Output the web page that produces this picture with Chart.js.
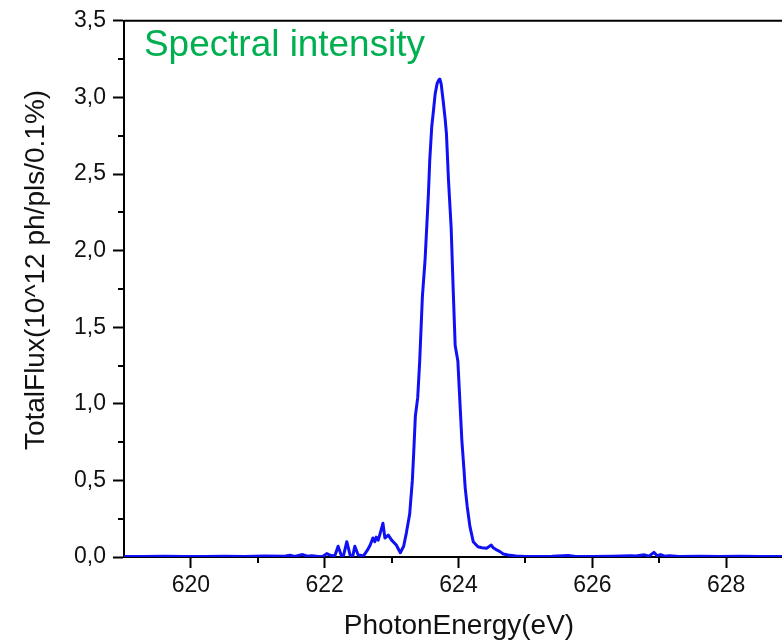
<!DOCTYPE html>
<html>
<head>
<meta charset="utf-8">
<script src="https://cdn.jsdelivr.net/npm/chart.js@4.4.1/dist/chart.umd.min.js"></script>
<style>
  html, body { margin: 0; padding: 0; background: #fff; }
  #wrap { width: 782px; height: 643px; position: relative; }
</style>
</head>
<body>
<div id="wrap"><canvas id="spectrum" width="782" height="643"></canvas></div>
<script>
// ── data ──
const energy = [
  619.0, 619.3, 619.6, 619.9, 620.2, 620.5, 620.8, 621.1, 621.4, 621.48, 621.55, 621.67, 621.74, 621.81, 621.9, 621.97,
  622.03, 622.08, 622.15, 622.2, 622.25, 622.28, 622.33, 622.38, 622.42, 622.45, 622.5, 622.55, 622.58, 622.64,
  622.68, 622.72, 622.75, 622.77, 622.8, 622.83, 622.87, 622.9, 622.95, 623.0, 623.07, 623.13, 623.18, 623.22,
  623.27, 623.31, 623.33, 623.355, 623.39, 623.42, 623.46, 623.5, 623.55, 623.57, 623.6, 623.62, 623.65, 623.68,
  623.7, 623.72, 623.74, 623.77, 623.8, 623.82, 623.85, 623.89, 623.92, 623.95, 623.99, 624.02, 624.05, 624.08,
  624.1, 624.13, 624.17, 624.22, 624.29, 624.35, 624.42, 624.49, 624.52, 624.57, 624.62, 624.67, 624.74, 624.86,
  625.0, 625.2, 625.4, 625.64, 625.75, 626.0, 626.3, 626.57, 626.65, 626.78, 626.85, 626.92, 626.97, 627.02,
  627.08, 627.15, 627.3, 627.6, 627.9, 628.2, 628.5, 628.85
];
const flux = [
  0.004, 0.003, 0.005, 0.003, 0.004, 0.005, 0.004, 0.006, 0.005, 0.012, 0.004, 0.016, 0.005, 0.009, 0.004, 0.003,
  0.022, 0.012, 0.007, 0.07, 0.008, 0.007, 0.10, 0.01, 0.007, 0.07, 0.013, 0.01, 0.007, 0.046,
  0.078, 0.124, 0.10, 0.13, 0.11, 0.156, 0.22, 0.124, 0.143, 0.11, 0.078, 0.028, 0.07, 0.156,
  0.28, 0.50, 0.68, 0.92, 1.04, 1.28, 1.70, 1.94, 2.37, 2.59, 2.81, 2.89, 3.02, 3.09,
  3.11, 3.12, 3.09, 2.98, 2.86, 2.76, 2.46, 2.15, 1.75, 1.38, 1.28, 1.02, 0.76, 0.58,
  0.45, 0.33, 0.20, 0.10, 0.067, 0.06, 0.057, 0.078, 0.06, 0.046, 0.035, 0.02, 0.013, 0.007,
  0.004, 0.004, 0.005, 0.010, 0.004, 0.004, 0.005, 0.008, 0.006, 0.014, 0.006, 0.030, 0.008, 0.016,
  0.005, 0.008, 0.004, 0.005, 0.004, 0.005, 0.004, 0.004
];
const xMajor = [620, 622, 624, 626, 628];
const xMinor = [621, 623, 625, 627];
const yMajor = [0, 0.5, 1.0, 1.5, 2.0, 2.5, 3.0, 3.5];
const yMinor = [0.25, 0.75, 1.25, 1.75, 2.25, 2.75, 3.25];

const FONT = '"Liberation Sans", Arial, sans-serif';

// minor ticks, top frame line and the three texts
const decor = {
  id: 'decor',
  afterDraw(chart) {
    const { ctx, chartArea: a, scales: { x, y } } = chart;
    ctx.save();
    ctx.strokeStyle = '#000';
    ctx.lineWidth = 2;
    ctx.beginPath();
    xMinor.forEach(v => {
      const px = Math.round(x.getPixelForValue(v));
      ctx.moveTo(px, a.bottom); ctx.lineTo(px, a.bottom + 6);
    });
    yMinor.forEach(v => {
      const py = Math.round(y.getPixelForValue(v));
      ctx.moveTo(a.left, py); ctx.lineTo(a.left - 6, py);
    });
    ctx.moveTo(a.left, a.top); ctx.lineTo(a.right, a.top);
    ctx.stroke();

    // title
    ctx.fillStyle = '#00b050';
    ctx.font = `36px ${FONT}`;
    ctx.textBaseline = 'alphabetic';
    ctx.textAlign = 'left';
    ctx.save();
    const t = 'Spectral intensity';
    const sx = 281 / ctx.measureText(t).width;
    ctx.translate(144, 56);
    ctx.scale(sx, 1);
    ctx.fillText(t, 0, 0);
    ctx.restore();

    // axis titles
    ctx.fillStyle = '#111';
    ctx.font = `28px ${FONT}`;
    ctx.textAlign = 'center';
    ctx.textBaseline = 'middle';
    ctx.fillText('PhotonEnergy(eV)', 459, 626);
    ctx.save();
    ctx.translate(36, 270);
    ctx.rotate(-Math.PI / 2);
    ctx.fillText('TotalFlux(10^12 ph/pls/0.1%)', 0, 0);
    ctx.restore();
    ctx.restore();
  }
};

new Chart(document.getElementById('spectrum'), {
  type: 'line',
  data: {
    datasets: [{
      data: energy.map((e, i) => ({ x: e, y: flux[i] })),
      borderColor: '#1010f4',
      borderWidth: 3,
      pointRadius: 0,
      tension: 0,
      borderJoinStyle: 'round',
      fill: false
    }]
  },
  options: {
    responsive: false,
    animation: false,
    devicePixelRatio: 1,
    layout: { padding: { top: 20, right: 0, left: 0, bottom: 0 } },
    plugins: { legend: { display: false }, tooltip: { enabled: false } },
    scales: {
      x: {
        type: 'linear',
        min: 619.0,
        max: 628.835,
        afterBuildTicks: s => { s.ticks = xMajor.map(v => ({ value: v })); },
        afterFit: s => { s.height = 86; },
        grid: { drawOnChartArea: false, drawTicks: true, tickLength: 11, tickColor: '#000', tickWidth: 2 },
        border: { display: true, color: '#000', width: 2 },
        ticks: { color: '#111', padding: 4, font: { family: FONT, size: 23 }, maxRotation: 0, autoSkip: false }
      },
      y: {
        min: 0,
        max: 3.5,
        afterBuildTicks: s => { s.ticks = yMajor.map(v => ({ value: v })); },
        afterFit: s => { s.width = 124; },
        grid: { drawOnChartArea: false, drawTicks: true, tickLength: 11, tickColor: '#000', tickWidth: 2 },
        border: { display: true, color: '#000', width: 2 },
        ticks: {
          color: '#111', padding: 7, font: { family: FONT, size: 23 },
          callback: v => v.toFixed(1).replace('.', ',')
        }
      }
    }
  },
  plugins: [decor]
});
</script>
</body>
</html>
